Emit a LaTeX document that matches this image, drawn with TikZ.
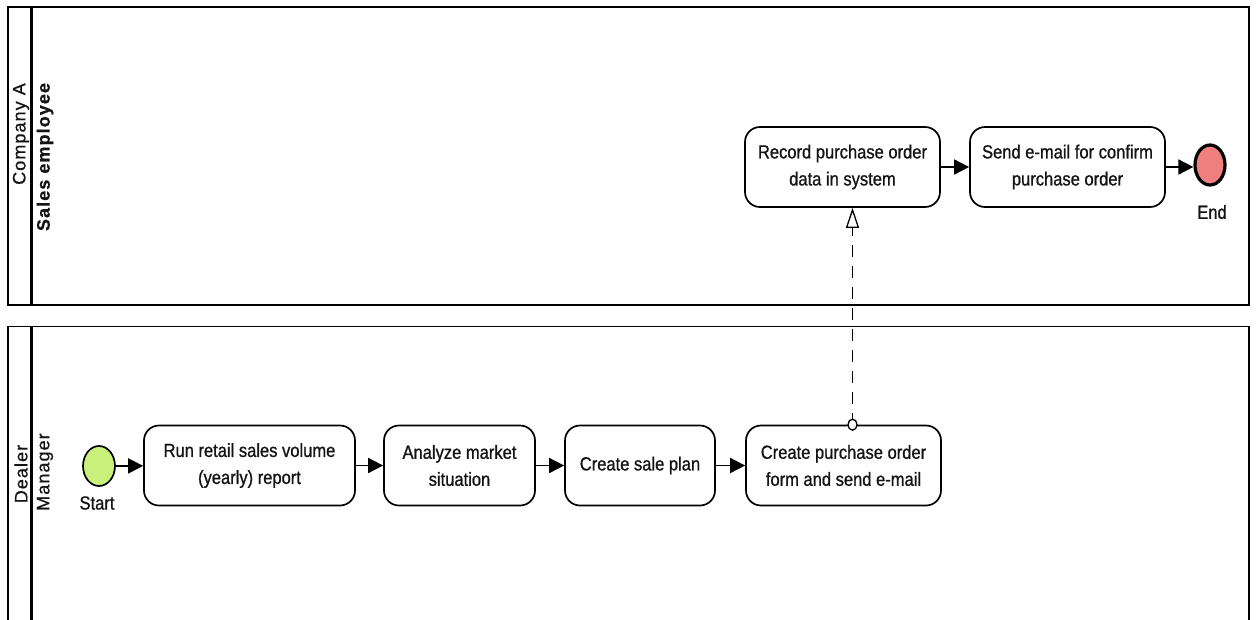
\documentclass[tikz,border=0pt]{standalone}
\usepackage{fontspec}
\setmainfont{Liberation Sans}
\newfontfamily\narrowfont{Liberation Sans}[FakeStretch=0.87, FakeBold=0.9]
\newfontfamily\poolfont{Liberation Sans}[LetterSpace=6, FakeBold=0.7]
\usetikzlibrary{arrows.meta,shapes.geometric}

\definecolor{startgreen}{RGB}{200,240,122}
\definecolor{endred}{RGB}{240,128,128}
\definecolor{ink}{RGB}{20,20,20}

\tikzset{
  pool/.style={draw=black, line width=1.8pt},
  divider/.style={draw=black, line width=3.2pt},
  pooltext/.style={rotate=90, anchor=center, inner sep=0pt, text=ink,
    font={\poolfont\fontsize{18}{20}\selectfont}},
  task/.style={draw=black, line width=1.7pt, rounded corners=15pt, fill=white,
    minimum height=80pt, inner sep=0pt, align=center, text=ink,
    font={\narrowfont\fontsize{19}{27}\selectfont}},
  evlabel/.style={inner sep=0pt, text=ink, font={\narrowfont\fontsize{19}{22}\selectfont}},
  flow/.style={draw=black, line width=1.7pt, -{Triangle[length=15pt,width=15pt]}},
  msg/.style={draw=black, line width=1.8pt, dash pattern=on 12pt off 9pt,
    -{Triangle[length=20pt,width=13pt,fill=white,line width=1.3pt]}},
}

\begin{document}
\begin{tikzpicture}[x=1pt,y=-1pt]
  \clip (0,0) rectangle (1256,619);
  \fill[white] (0,0) rectangle (1256,619);

  % pool: Company A / lane: Sales employee
  \draw[pool] (8,7) rectangle (1249,305);
  \draw[divider] (31.5,7) -- (31.5,305);
  \node[pooltext] (poolA) at (21,134) {Company A};
  \node[pooltext, font={\poolfont\bfseries\fontsize{18}{20}\selectfont}] (laneA) at (45,157) {Sales employee};

  % pool: Dealer / lane: Manager
  \draw[pool] (8,326.5) rectangle (1249,640);
  \draw[divider] (31.5,326.5) -- (31.5,640);
  \node[pooltext] (poolB) at (21,474) {Dealer};
  \node[pooltext] (laneB) at (45,472) {Manager};

  % dealer activities
  \node[draw=black, line width=1.7pt, ellipse, fill=startgreen, minimum width=32pt,
        minimum height=40pt, inner sep=0pt] (start) at (99,466) {};
  \node[evlabel] (startlbl) at (97,503) {Start};
  \node[task, minimum width=211pt] (run) at (249.5,465.5) {Run retail sales volume\\(yearly) report};
  \node[task, minimum width=151pt] (analyze) at (459.5,465.5) {Analyze market\\situation};
  \node[task, minimum width=150pt] (plan) at (640,465.5) {Create sale plan};
  \node[task, minimum width=195pt] (cpo) at (843.5,465.5) {Create purchase order\\form and send e-mail};

  % sales employee activities
  \node[task, minimum width=195pt] (record) at (842.5,167) {Record purchase order\\data in system};
  \node[task, minimum width=195pt] (send) at (1067.5,167) {Send e-mail for confirm\\purchase order};
  \node[draw=black, line width=3.2pt, ellipse, fill=endred, minimum width=30pt,
        minimum height=40pt, inner sep=0pt] (end) at (1210,165) {};
  \node[evlabel] (endlbl) at (1212,212) {End};

  % sequence flows
  \draw[flow] (start) -- (run);
  \draw[flow] (run) -- (analyze);
  \draw[flow] (analyze) -- (plan);
  \draw[flow] (plan) -- (cpo);
  \draw[flow] (record) -- (send);
  \draw[flow] (send.east) -- (end.west |- send.east);

  % message flow
  \coordinate (msgS) at ([xshift=9pt]cpo.north);
  \draw[msg] (msgS) -- (msgS |- record.south);
  \node[draw=black, line width=1.3pt, ellipse, fill=white, minimum width=9pt,
        minimum height=11pt, inner sep=0pt] (msgdot) at (msgS) {};
\end{tikzpicture}
\end{document}
